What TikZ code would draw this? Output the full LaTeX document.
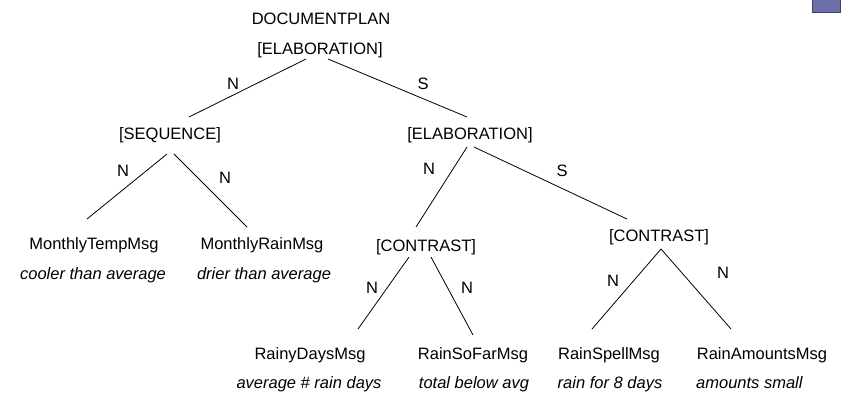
\documentclass[tikz,border=0pt]{standalone}
\usepackage{fontspec}
\setmainfont{Liberation Sans}
\begin{document}
\begin{tikzpicture}[x=1pt,y=-1pt,
  lbl/.style={inner sep=0pt,anchor=base,font=\fontsize{16.5}{19.8}\selectfont},
  desc/.style={lbl,font=\fontsize{16.5}{19.8}\selectfont\itshape},
  rel/.style={lbl},
  edge/.style={line width=0.8pt,black}]
\useasboundingbox (0,0) rectangle (850,392);
% corner marker
\fill[fill={rgb,255:red,108;green,111;blue,168},draw={rgb,255:red,62;green,62;blue,96},line width=0.8pt]
  (812,-3) rectangle (840,12);

% tree nodes (baselines)
\node[lbl] (doc)  at (321,24)  {DOCUMENTPLAN};
\node[lbl] (root) at (320,54)  {[ELABORATION]};
\node[lbl] (seq)  at (170,139) {[SEQUENCE]};
\node[lbl] (elab) at (470,139) {[ELABORATION]};
\node[lbl] (mt)   at (94,249)  {MonthlyTempMsg};
\node[desc] (mtd) at (93,279)  {cooler than average};
\node[lbl] (mr)   at (262,249) {MonthlyRainMsg};
\node[desc] (mrd) at (264,279) {drier than average};
\node[lbl] (c1)   at (426,251) {[CONTRAST]};
\node[lbl] (c2)   at (659,241) {[CONTRAST]};
\node[lbl] (rd)   at (310,359) {RainyDaysMsg};
\node[desc] (rdd) at (309,388) {average \# rain days};
\node[lbl] (rs)   at (473,359) {RainSoFarMsg};
\node[desc] (rsd) at (474,388) {total below avg};
\node[lbl] (sp)   at (609,359) {RainSpellMsg};
\node[desc] (spd) at (610,388) {rain for 8 days};
\node[lbl] (ra)   at (762,359) {RainAmountsMsg};
\node[desc,anchor=base west] (rad) at (696,388) {amounts small};

% connectors, offsets from node base points
\draw[edge] ([shift={(-14,5)}]root.base) -- ([shift={(19,-22)}]seq.base);
\draw[edge] ([shift={(8,5)}]root.base)   -- ([shift={(-3,-22)}]elab.base);
\draw[edge] ([shift={(-3,15)}]seq.base)  -- ([shift={(-7,-30)}]mt.base);
\draw[edge] ([shift={(4,15)}]seq.base)   -- ([shift={(-15,-22)}]mr.base);
\draw[edge] ([shift={(-3,8)}]elab.base)  -- ([shift={(-10,-24)}]c1.base);
\draw[edge] ([shift={(4,8)}]elab.base)   -- ([shift={(-32,-22)}]c2.base);
\draw[edge] ([shift={(-17,6)}]c1.base)   -- ([shift={(48,-30)}]rd.base);
\draw[edge] ([shift={(5,6)}]c1.base)     -- ([shift={(0,-24)}]rs.base);
\draw[edge] ([shift={(2,8)}]c2.base)     -- ([shift={(-17,-30)}]sp.base);
\draw[edge] ([shift={(2,8)}]c2.base)     -- ([shift={(-31,-30)}]ra.base);

% relation labels
\node[rel] (l1)  at (233,89)  {N};
\node[rel] (l2)  at (423,89)  {S};
\node[rel] (l3)  at (123,176) {N};
\node[rel] (l4)  at (225,183) {N};
\node[rel] (l5)  at (429,174) {N};
\node[rel] (l6)  at (562,176) {S};
\node[rel] (l7)  at (372,293) {N};
\node[rel] (l8)  at (467,293) {N};
\node[rel] (l9)  at (613,286) {N};
\node[rel] (l10) at (723,278) {N};
\end{tikzpicture}
\end{document}
